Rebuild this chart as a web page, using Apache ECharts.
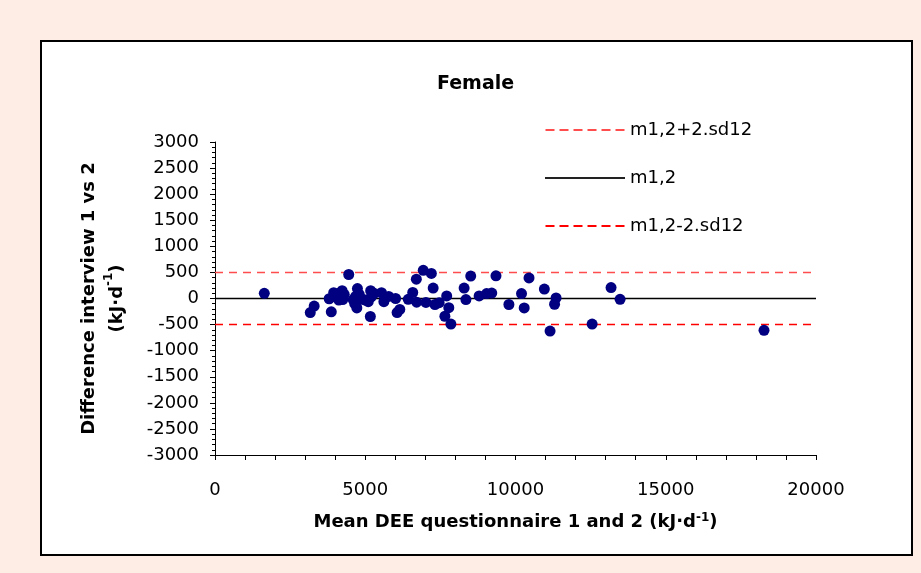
<!DOCTYPE html>
<html>
<head>
<meta charset="utf-8">
<script src="https://cdn.jsdelivr.net/npm/echarts@6/dist/echarts.min.js"></script>
<style>
  html, body { margin: 0; padding: 0; background: #fdede4; }
  #box { position: absolute; left: 40px; top: 40px; width: 873px; height: 516px;
         box-sizing: border-box; border: 2px solid #000; background: #fff; }
  #chart { position: absolute; left: 0; top: 0; width: 921px; height: 573px; }
</style>
</head>
<body>
<div id="box"></div>
<div id="chart"></div>
<script>
// mean of the two questionnaires (kJ/d) and the difference between interviews
const meanDee = [
  1640, 3170, 3300, 3800, 3870, 3950, 4050, 4120, 4180, 4230, 4120, 4250, 4300,
  4450, 4600, 4680, 4720, 4740, 4650, 4800, 4900, 5000, 5100, 5180, 5200, 5170,
  5290, 5540, 5620, 5780, 6010, 6060, 6150, 6430, 6580, 6710, 6700, 6930, 7020,
  7200, 7260, 7320, 7460, 7710, 7780, 7650, 7850, 8290, 8350, 8510, 8790, 9040,
  9210, 9350, 9780, 10200, 10290, 10450, 10960, 11150, 11300, 11350, 12550,
  13180, 13480, 18270
];
const diffInterview = [
  100, -270, -145, -5, -255, 110, 20, 100, 60, 150, -30, -20, 80,
  460, -20, 40, -180, 190, -100, 80, -15, -30, -60, 150, 30, -345,
  100, 110, -60, 40, 0, -270, -210, -15, 115, -70, 370, 540, -75,
  480, 200, -115, -80, 50, -175, -340, -490, 200, -20, 430, 50, 95,
  105, 435, -115, 95, -180, 395, 180, -625, -110, 10, -490,
  210, -15, -610
];
const limitX = [0, 20000];
const upperLimit = [500, 500];
const meanLine = [0, 0];
const lowerLimit = [-500, -500];

const pts = meanDee.map((x, i) => [x, diffInterview[i]]);
const pair = ys => limitX.map((x, i) => [x, ys[i]]);

const dashIcon = 'path://M0,0h9v2h-9zM14,0h9v2h-9zM28,0h9v2h-9zM42,0h9v2h-9zM56,0h9v2h-9zM70,0h9v2h-9z';
const font = 'DejaVu Sans, Liberation Sans, sans-serif';

const myChart = echarts.init(document.getElementById('chart'));
const option = {
  backgroundColor: 'transparent',
  animation: false,
  textStyle: { fontFamily: font },
  title: {
    text: 'Female',
    left: 432,
    top: 70,
    textStyle: { fontSize: 19, fontWeight: 'bold', color: '#000', fontFamily: font },
  },
  legend: {
    orient: 'vertical',
    left: 540,
    top: 116,
    itemWidth: 80,
    itemHeight: 2,
    itemGap: 30,
    textStyle: { fontSize: 18, color: '#000', fontFamily: font },
    data: [
      { name: 'm1,2+2.sd12', icon: dashIcon },
      { name: 'm1,2', icon: 'rect' },
      { name: 'm1,2-2.sd12', icon: dashIcon },
    ],
  },
  grid: { left: 215, right: 105, top: 142, bottom: 118 },
  xAxis: {
    type: 'value',
    min: 0,
    max: 20000,
    interval: 5000,
    name: '{b|Mean DEE questionnaire 1 and 2 (kJ·d}{sup|-1}{b|)}',
    nameLocation: 'middle',
    nameGap: 57,
    nameTextStyle: {
      rich: {
        b: { fontSize: 18, fontWeight: 'bold', color: '#000', fontFamily: font },
        sup: { fontSize: 12, fontWeight: 'bold', color: '#000', fontFamily: font, verticalAlign: 'top', padding: [0, 0, 8, 0] },
      },
    },
    splitLine: { show: false },
    axisLine: { onZero: false, lineStyle: { color: '#000', width: 1 } },
    axisTick: { length: 5, lineStyle: { color: '#000' } },
    minorTick: { show: true, splitNumber: 5, length: 5, lineStyle: { color: '#000' } },
    axisLabel: { fontSize: 18, color: '#000', margin: 26, formatter: v => String(v) },
  },
  yAxis: {
    type: 'value',
    min: -3000,
    max: 3000,
    interval: 500,
    name: '{b|Difference interview 1 vs 2}\n{b|(kJ·d}{sup|-1}{b|)}',
    nameLocation: 'middle',
    nameRotate: 90,
    nameGap: 84,
    nameTextStyle: {
      lineHeight: 28,
      rich: {
        b: { fontSize: 18, fontWeight: 'bold', color: '#000', fontFamily: font, lineHeight: 28 },
        sup: { fontSize: 12, fontWeight: 'bold', color: '#000', fontFamily: font, verticalAlign: 'top', padding: [0, 0, 8, 0] },
      },
    },
    splitLine: { show: false },
    axisLine: { onZero: false, lineStyle: { color: '#000', width: 1 } },
    axisTick: { length: 5, lineStyle: { color: '#000' } },
    minorTick: { show: true, splitNumber: 5, length: 3, lineStyle: { color: '#000' } },
    axisLabel: { fontSize: 18, color: '#000', margin: 16, formatter: v => String(v) },
  },
  series: [
    {
      name: 'm1,2+2.sd12',
      type: 'line',
      data: pair(upperLimit),
      showSymbol: false,
      itemStyle: { color: '#ff4d4d' },
      lineStyle: { color: '#ff4d4d', width: 1.5, type: [8, 6] },
      z: 1,
    },
    {
      name: 'm1,2',
      type: 'line',
      data: pair(meanLine),
      showSymbol: false,
      itemStyle: { color: '#222' },
      lineStyle: { color: '#000', width: 1.5 },
      z: 1,
    },
    {
      name: 'm1,2-2.sd12',
      type: 'line',
      data: pair(lowerLimit),
      showSymbol: false,
      itemStyle: { color: '#ff0000' },
      lineStyle: { color: '#ff0000', width: 1.5, type: [8, 6] },
      z: 1,
    },
    {
      name: 'DEE',
      type: 'scatter',
      data: pts,
      symbolSize: 11,
      itemStyle: { color: '#000080', opacity: 1 },
      z: 3,
    },
  ],
};

if (option && typeof option === 'object') {
  myChart.setOption(option, true);
}
</script>
</body>
</html>
